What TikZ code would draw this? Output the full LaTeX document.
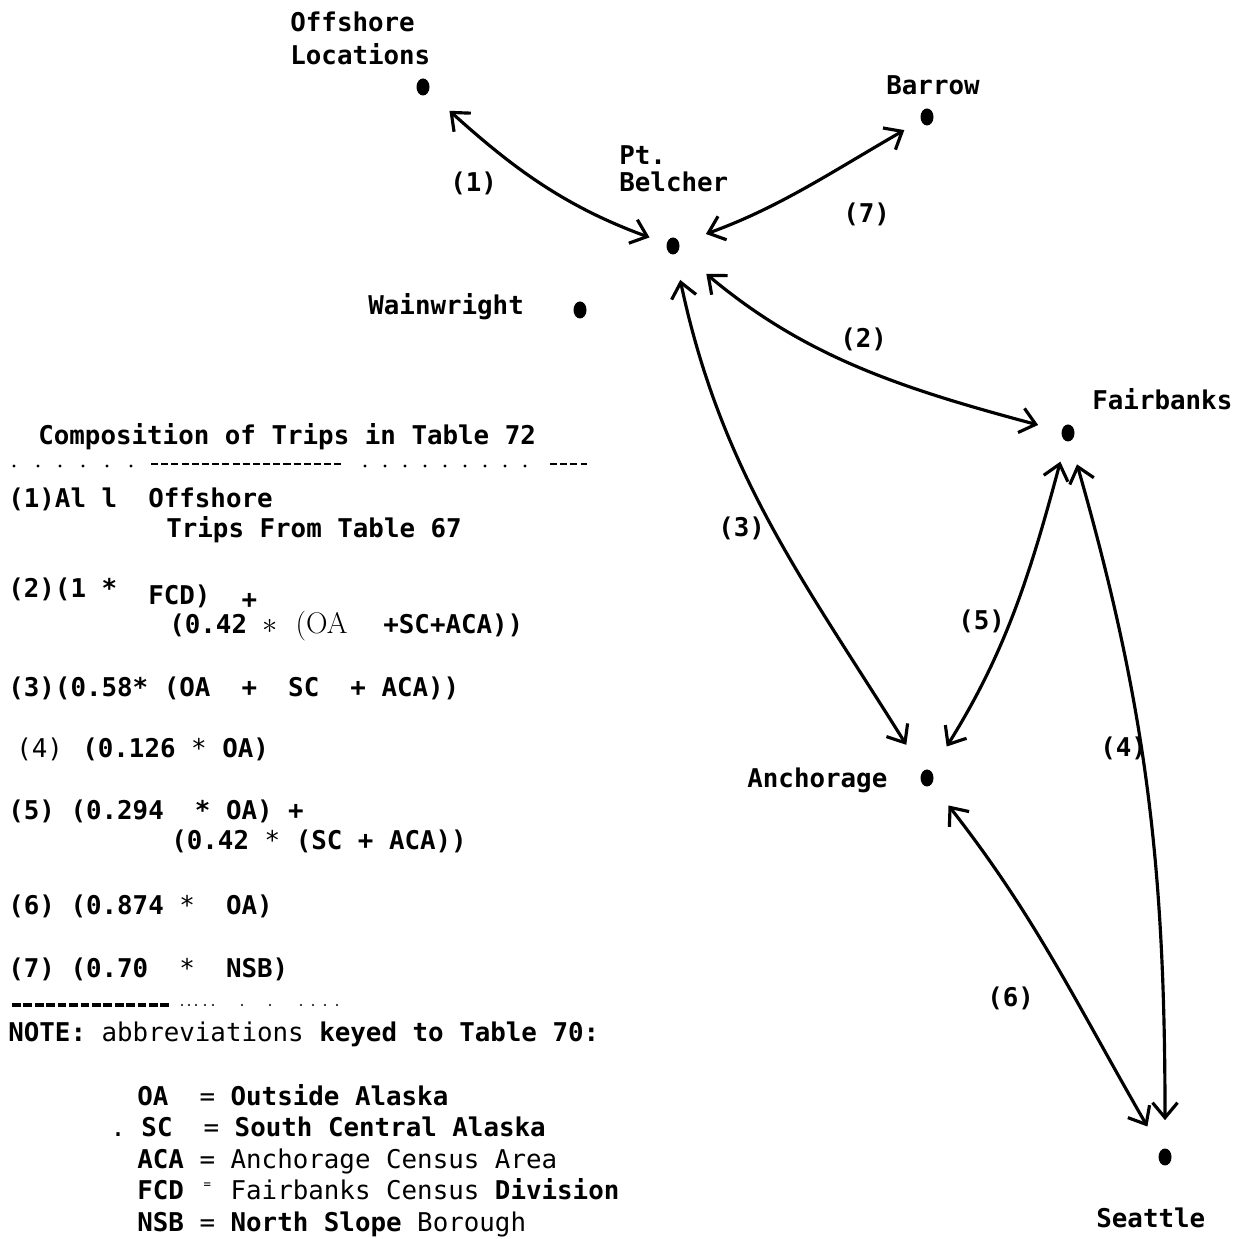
\documentclass[tikz,border=0pt]{standalone}
\usepackage{fontspec}
\newfontfamily\typefont{DejaVu Sans Mono}
\usetikzlibrary{arrows.meta, shapes.geometric}

\begin{document}
\begin{tikzpicture}[x=0.02cm,y=0.02cm,
	town/.style={ellipse,fill=black,inner sep=0pt,minimum width=0.26cm,minimum height=0.34cm},
	txt/.style={anchor=base west,inner sep=0pt,font=\typefont\bfseries\fontsize{14.7}{18}\selectfont},
	thin/.style={txt,font=\typefont\mdseries\fontsize{14.7}{18}\selectfont},
	roman/.style={txt,font=\rmfamily\fontsize{17}{20}\selectfont},
	trip/.style={<->,>={Straight Barb[length=0.3cm,width=0.5cm]},line width=1.8pt,line cap=round}]
\useasboundingbox (0,0) rectangle (1238,1239);
\foreach \n/\x/\y in {offshore/423/1152,barrow/927/1122,belcher/673/993,wainwright/580/929,
	fairbanks/1068/806,anchorage/927/461,seattle/1165/82}\node[town] (\n) at (\x,\y){};
\node[txt] (offshoreA) at (290,1207) {Offshore};
\node[txt] (offshoreB) at (290,1174) {Locations};
\node[txt] (barrowL) at (886,1144) {Barrow};
\node[txt] (belcherA) at (619,1074) {Pt.};
\node[txt] (belcherB) at (619,1047) {Belcher};
\node[txt] (wainwrightL) at (368,924) {Wainwright};
\node[txt] (fairbanksL) at (1092,829) {Fairbanks};
\node[txt] (anchorageL) at (747,451) {Anchorage};
\node[txt] (seattleL) at (1096,11) {Seattle};
\draw[trip,shorten <=0.56cm,shorten >=0.36cm] (offshore) to[out=-42,in=160] (belcher);
\draw[trip,shorten <=0.56cm,shorten >=0.38cm] (belcher) to[out=20,in=210] (barrow);
\draw[trip,shorten <=0.72cm,shorten >=0.48cm] (belcher) to[out=-40,in=165] (fairbanks);
\draw[trip,shorten <=0.52cm,shorten >=0.62cm] (belcher) to[out=-78,in=122] (anchorage);
\draw[trip,shorten <=0.42cm,shorten >=0.58cm] (fairbanks) to[out=-105,in=58] (anchorage);
\draw[trip,shorten <=0.48cm,shorten >=0.56cm] (fairbanks) to[out=-74,in=90] (seattle);
\draw[trip,shorten <=0.54cm,shorten >=0.54cm] (anchorage) to[out=-52,in=120] (seattle);
\node[txt] (t1) at (450,1047) {(1)};
\node[txt] (t7) at (843,1016) {(7)};
\node[txt] (t2) at (840,891) {(2)};
\node[txt] (t3) at (718,702) {(3)};
\node[txt] (t5) at (958,609) {(5)};
\node[txt] (t4) at (1100,482) {(4)};
\node[txt] (t6) at (987,232) {(6)};
\node[txt] (title) at (38,794) {Composition of Trips in Table 72};
\foreach \x in {14,38,60,83,107,131}\fill (\x,773) circle (0.9pt);
\foreach \x in {365,385,...,525}\fill (\x,773) circle (0.9pt);
\draw[line width=0.9pt,dash pattern=on 4pt off 1.8pt] (151,775) -- (343,775);
\draw[line width=0.9pt,dash pattern=on 4pt off 1.8pt] (550,775) -- (587,775);
\node[txt] (f1a) at (8,731) {(1)Al l~~Offshore};
\node[txt] (f1b) at (166,701) {Trips From Table 67};
\node[txt] (f2a) at (8,634) {\raisebox{4pt}{(2)(1 *}~~FCD)~~\raisebox{-2pt}{+}};
\node[txt] (f2b) at (169,605) {(0.42};
\node[roman] (f2c) at (262,605) {$\ast$~~(OA};
\node[txt] (f2d) at (383,605) {+SC+ACA))};
\node[txt] (f3) at (8,542) {(3)(0.58*~(OA~~+~~SC~~+~ACA))};
\node[thin] (f4a) at (16,481) {(4)};
\node[txt] (f4b) at (82,481) {(0.126 {\mdseries*} OA)};
\node[txt] (f5a) at (8,419) {(5)~(0.294~~*~OA)~+};
\node[txt] (f5b) at (171,389) {(0.42 {\mdseries*} (SC + ACA))};
\node[txt] (f6) at (8,324) {(6)~(0.874~{\mdseries*}~~OA)};
\node[txt] (f7) at (8,261) {(7)~(0.70~~{\mdseries*}~~NSB)};
\draw[line width=2pt,dash pattern=on 5pt off 1.5pt] (12,234) -- (171,234);
\foreach \x in {182,189,196,205,213,242,270,301,313,325,337}\fill (\x,234) circle (0.7pt);
\node[txt] (note) at (8,197) {NOTE: {\mdseries abbreviations} keyed to Table 70:};
\node[txt] (ab1) at (137,133) {OA~~{\mdseries=}~Outside Alaska};
\node[txt] (ab2) at (110,102) {{\mdseries.}~SC~~{\mdseries=}~South Central Alaska};
\node[txt] (ab3) at (137,70) {ACA {\mdseries= Anchorage Census Area}};
\node[txt] (ab4) at (137,39) {FCD {\mdseries\makebox[0.602em]{\raisebox{0.45em}{\fontsize{7}{7}\selectfont=}} Fairbanks Census} Division};
\node[txt] (ab5) at (137,8) {NSB {\mdseries=} North Slope {\mdseries Borough}};
\end{tikzpicture}
\end{document}
